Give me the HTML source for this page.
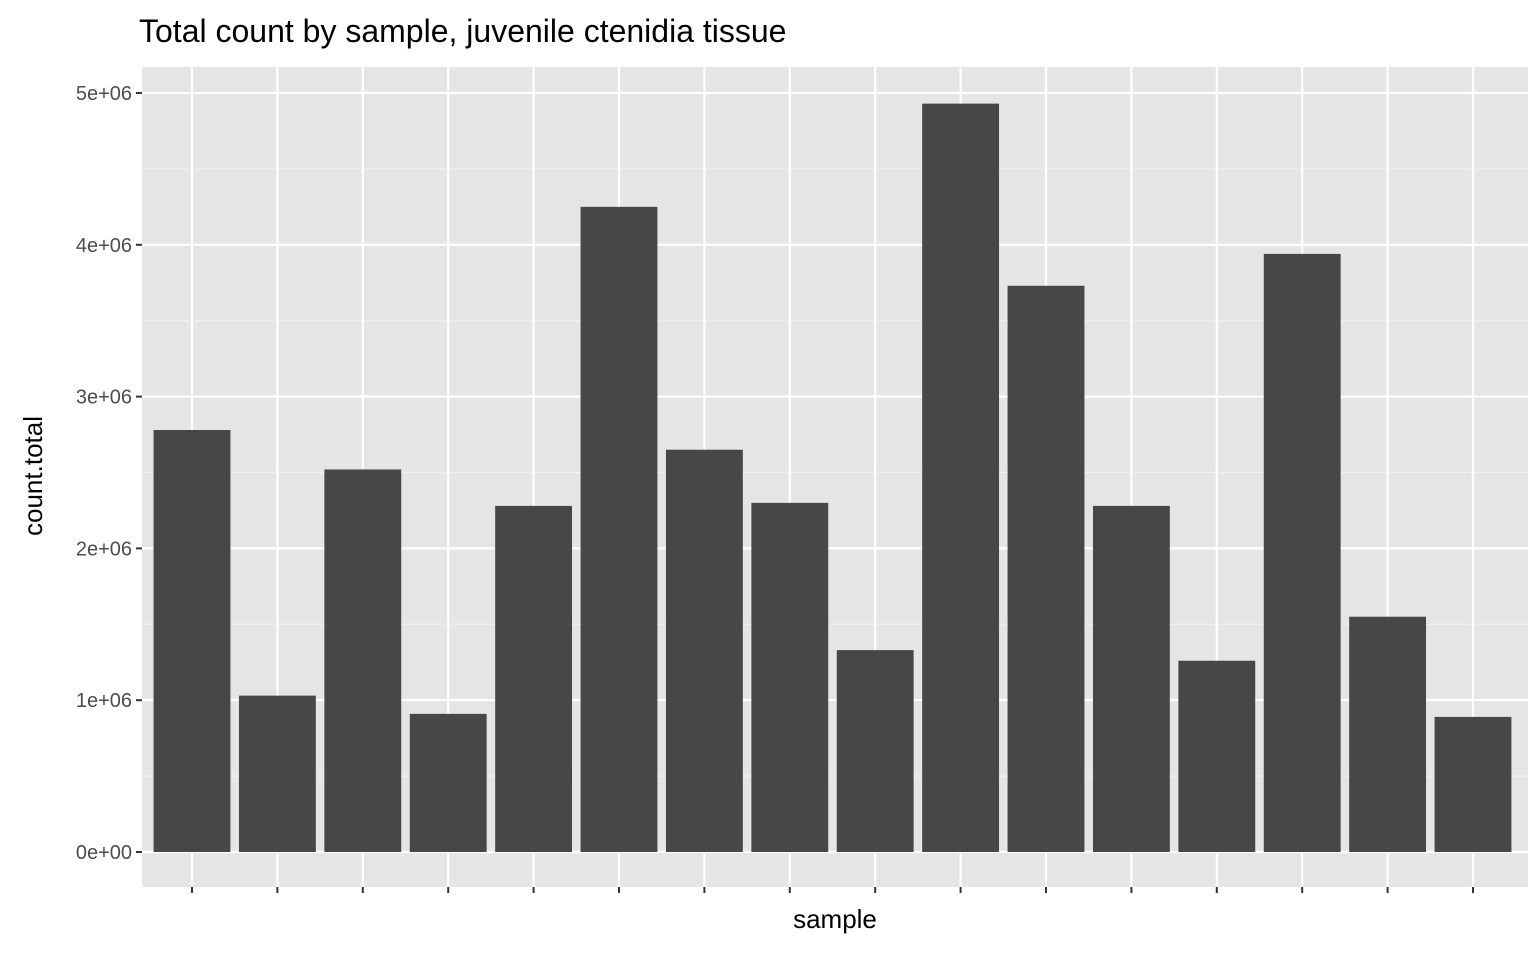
<!DOCTYPE html>
<html><head><meta charset="utf-8"><style>
body{margin:0;background:#fff;}
svg text{font-family:"Liberation Sans",Arial,sans-serif;}
</style></head><body>
<svg id="chart" width="1540" height="951" xmlns="http://www.w3.org/2000/svg">
<rect width="1540" height="951" fill="#fff"/>
<text x="139" y="42" font-size="32" fill="#000">Total count by sample, juvenile ctenidia tissue</text>
<rect x="142" y="67" width="1386" height="820" fill="#e5e5e5"/>
<g id="grid"></g>
<g id="bars"></g>
<g id="axes"></g>
<text x="835" y="928" font-size="26" text-anchor="middle" fill="#000">sample</text>
<text transform="translate(42,476) rotate(-90)" font-size="26" text-anchor="middle" fill="#000">count.total</text>
</svg>
<script>
const categories = ["s1","s2","s3","s4","s5","s6","s7","s8","s9","s10","s11","s12","s13","s14","s15","s16"];
const values = [2780000,1030000,2520000,910000,2280000,4250000,2650000,2300000,1330000,4930000,3730000,2280000,1260000,3940000,1550000,890000];
const yTicks = [0,1000000,2000000,3000000,4000000,5000000];
const yTickLabels = ["0e+00","1e+06","2e+06","3e+06","4e+06","5e+06"];

const NS="http://www.w3.org/2000/svg";
const pLeft=142,pRight=1528,pTop=67,pBottom=887;
const yZero=852,yFive=93;
function yScale(v){return yZero-(v/5000000)*(yZero-yFive);}
const band=85.4;
function xScale(i){return 192+band*i;}
const barW=band*0.9;
function mk(tag,attrs,parent){const e=document.createElementNS(NS,tag);for(const k in attrs)e.setAttribute(k,attrs[k]);document.getElementById(parent).appendChild(e);return e;}
for(let i=0;i<yTicks.length;i++){
  const ym=yScale(yTicks[i]+500000);
  if(ym>pTop){
    const l=mk("line",{x1:pLeft,x2:pRight,y1:ym,y2:ym,stroke:"#f2f2f2","stroke-width":1.2},"grid");
    
    
  }
}
yTicks.forEach((t,i)=>{
  const y=yScale(t);
  const l=mk("line",{x1:pLeft,x2:pRight,y1:y,y2:y,stroke:"#fff","stroke-width":2.2},"grid");
  
  
  const tk=mk("line",{x1:pLeft-6,x2:pLeft,y1:y,y2:y,stroke:"#333","stroke-width":2},"axes");
  
  
  const tx=mk("text",{x:pLeft-10,y:y+7,"font-size":20,"text-anchor":"end",fill:"#4d4d4d"},"axes");
  tx.textContent=yTickLabels[i];
  
  
});
categories.forEach((c,i)=>{
  const x=xScale(i);
  const l=mk("line",{x1:x,x2:x,y1:pTop,y2:pBottom,stroke:"#fff","stroke-width":2.2},"grid");
  
  
  const tk=mk("line",{x1:x,x2:x,y1:pBottom,y2:pBottom+6,stroke:"#333","stroke-width":2},"axes");
  
  
  const yt=yScale(values[i]);
  const r=mk("rect",{x:x-barW/2,y:yt,width:barW,height:yZero-yt,fill:"#474747"},"bars");
  
  
});
</script>
</body></html>
